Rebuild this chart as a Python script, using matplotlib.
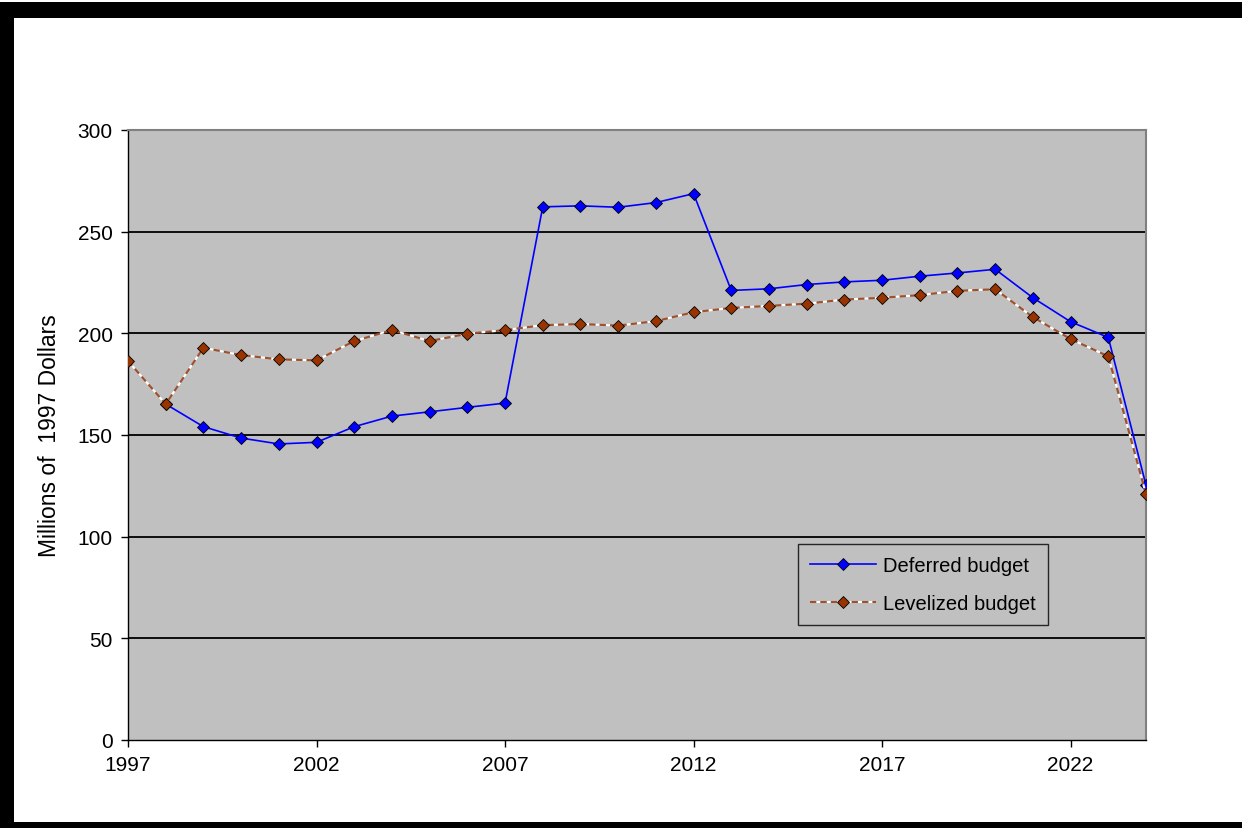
import numpy as np
import matplotlib.pyplot as plt
from matplotlib.patches import Rectangle

plt.rcParams['font.family'] = ['Liberation Sans', 'DejaVu Sans']

years = np.arange(1997, 2025)

# Deferred budget starts in 1998
deferred = [np.nan, 165.2, 154.1, 148.5, 145.6, 146.4, 154.1, 159.3, 161.4, 163.6,
            165.7, 262.2, 262.7, 262.0, 264.3, 268.7, 221.1, 221.9, 224.0, 225.3,
            226.1, 228.1, 229.7, 231.5, 217.5, 205.7, 198.0, 125.3]
levelized = [186.4, 165.2, 192.9, 189.3, 187.2, 186.7, 196.2, 201.6, 196.2, 199.8,
             201.6, 204.0, 204.6, 203.8, 206.0, 210.4, 212.5, 213.5, 214.6, 216.6,
             217.5, 218.8, 220.9, 221.7, 208.0, 197.2, 188.7, 120.9]

xticks = [1997, 2002, 2007, 2012, 2017, 2022]
yticks = [0, 50, 100, 150, 200, 250, 300]

W, H = 1242, 829
fig = plt.figure(figsize=(W / 100, H / 100), dpi=100)
ax = fig.add_axes([128 / W, 1 - 741 / H, 1018 / W, 610 / H])
ax.set_facecolor('#C0C0C0')

ax.plot(years, deferred, color='#0000FF', lw=1.2, marker='D', ms=6.5,
        mfc='#0000FF', mec='#000000', mew=0.6, label='Deferred budget', zorder=3)
ax.plot(years, levelized, color='#A0502A', lw=1.5, ls=(0, (3, 2)), gapcolor='white',
        marker='D', ms=6.5, mfc='#993300', mec='#000000', mew=0.6,
        label='Levelized budget', zorder=4)

ax.set_xlim(1997, 2024)
ax.set_ylim(0, 300)
ax.set_xticks(xticks)
ax.set_yticks(yticks)
for y in yticks[1:-1]:
    ax.axhline(y, color='black', lw=1.3, zorder=1)

for side in ('left', 'bottom'):
    ax.spines[side].set_color('black')
    ax.spines[side].set_linewidth(1.0)
for side in ('top', 'right'):
    ax.spines[side].set_color('#808080')
    ax.spines[side].set_linewidth(1.5)

ax.tick_params(direction='out', length=5, width=1, labelsize=15, pad=6, colors='black')
ax.set_ylabel('Millions of  1997 Dollars', fontsize=16.5, labelpad=12)

leg = ax.legend(loc='upper left', bbox_to_anchor=(0.658, 0.321), fontsize=14.5,
                frameon=True, fancybox=False, handlelength=3.3, handletextpad=0.35,
                borderpad=0.6, labelspacing=0.95, borderaxespad=0)
leg.get_frame().set_facecolor('#C0C0C0')
leg.get_frame().set_edgecolor('black')
leg.get_frame().set_linewidth(1.0)

# thick black frame around the figure: left, top and bottom bars
for x0, y0, w, h in [(0, 3, 14, 826), (0, 3, W, 16), (0, 823, W, 6)]:
    fig.patches.append(Rectangle((x0 / W, 1 - (y0 + h) / H), w / W, h / H,
                                 transform=fig.transFigure, facecolor='black',
                                 edgecolor='none'))

fig.savefig('out.png', dpi=100)
